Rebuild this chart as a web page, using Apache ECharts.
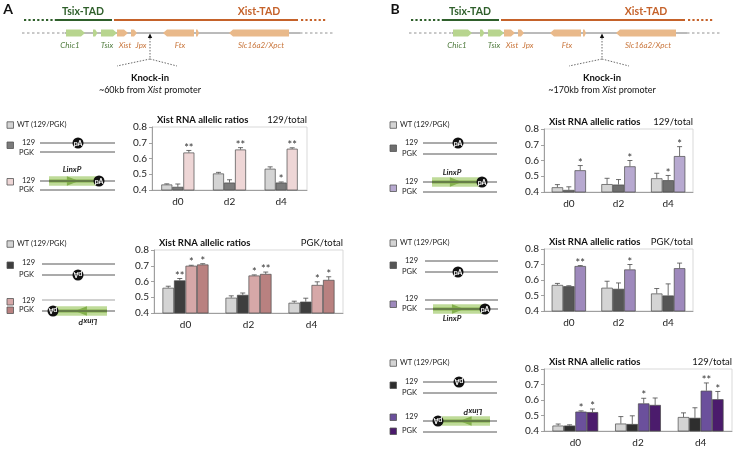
<!DOCTYPE html>
<html><head><meta charset="utf-8">
<script src="https://cdn.jsdelivr.net/npm/echarts@6/dist/echarts.min.js"></script>
<style>html,body{margin:0;padding:0;background:#fff}#c{width:735px;height:450px}</style>
</head><body><div id="c"></div>
<script>
// ---------- DATA ----------
const categories = ['d0', 'd2', 'd4'];
const yTicks = [0.4, 0.5, 0.6, 0.7, 0.8];

// Panel A, top: 129/total
const a1Wt = [0.435, 0.505, 0.535];
const a1WtErr = [0.004, 0.007, 0.012];
const a1Pa = [0.42, 0.447, 0.447];
const a1PaErr = [0.018, 0.018, 0.004];
const a1PaStars = ['', '', '*'];
const a1Linx = [0.638, 0.657, 0.662];
const a1LinxErr = [0.013, 0.012, 0.006];
const a1LinxStars = ['**', '**', '**'];

// Panel A, bottom: PGK/total
const a2Wt = [0.56, 0.497, 0.465];
const a2WtErr = [0.01, 0.012, 0.01];
const a2Pa = [0.607, 0.515, 0.472];
const a2PaErr = [0.012, 0.012, 0.022];
const a2PaStars = ['**', '', ''];
const a2Linx1 = [0.70, 0.638, 0.578];
const a2Linx1Err = [0.003, 0.004, 0.02];
const a2Linx1Stars = ['*', '*', '*'];
const a2Linx2 = [0.708, 0.648, 0.61];
const a2Linx2Err = [0.005, 0.012, 0.02];
const a2Linx2Stars = ['*', '**', '*'];

// Panel B, top: 129/total
const b1Wt = [0.43, 0.45, 0.487];
const b1WtErr = [0.017, 0.037, 0.032];
const b1Pa = [0.413, 0.447, 0.475];
const b1PaErr = [0.02, 0.032, 0.03];
const b1PaStars = ['', '', '*'];
const b1Linx = [0.538, 0.563, 0.628];
const b1LinxErr = [0.03, 0.037, 0.06];
const b1LinxStars = ['*', '*', '*'];

// Panel B, middle: PGK/total
const b2Wt = [0.568, 0.55, 0.513];
const b2WtErr = [0.01, 0.042, 0.032];
const b2Pa = [0.56, 0.543, 0.50];
const b2PaErr = [0.003, 0.038, 0.075];
const b2Linx = [0.69, 0.668, 0.676];
const b2LinxErr = [0.003, 0.032, 0.033];
const b2LinxStars = ['**', '*', ''];

// Panel B, bottom: 129/total
const b3Wt = [0.435, 0.448, 0.49];
const b3WtErr = [0.01, 0.045, 0.027];
const b3Pa = [0.435, 0.445, 0.485];
const b3PaErr = [0.005, 0.053, 0.065];
const b3Linx1 = [0.525, 0.578, 0.66];
const b3Linx1Err = [0.005, 0.033, 0.05];
const b3Linx1Stars = ['*', '*', '**'];
const b3Linx2 = [0.522, 0.568, 0.605];
const b3Linx2Err = [0.02, 0.045, 0.05];
const b3Linx2Stars = ['*', '', '*'];

// ---------- BUILD ----------
const FF = 'Lato, "Liberation Sans", sans-serif';
const grids = [], xAxes = [], yAxes = [], series = [], G = [];
const noStars = ['', '', ''];

function addPanel(rect, list, gap, title, sub) {
  const gi = grids.length;
  grids.push({left: rect[0], top: rect[1], width: rect[2], height: rect[3], show: true,
    borderColor: '#cfcfcf', borderWidth: 0.8, backgroundColor: 'transparent'});
  xAxes.push({gridIndex: gi, type: 'category', data: categories,
    axisLine: {lineStyle: {color: '#8c8c8c', width: 0.8}},
    axisTick: {length: 3, lineStyle: {color: '#8c8c8c', width: 0.8}},
    axisLabel: {fontSize: 10, color: '#222', margin: 7, fontFamily: FF}});
  yAxes.push({gridIndex: gi, type: 'value', min: yTicks[0], max: yTicks[yTicks.length - 1], interval: 0.1,
    axisLine: {show: true, lineStyle: {color: '#8c8c8c', width: 0.8}},
    axisTick: {show: true, length: 3, lineStyle: {color: '#8c8c8c', width: 0.8}},
    splitLine: {show: false},
    axisLabel: {fontSize: 10, color: '#222', margin: 5, fontFamily: FF, formatter: v => v.toFixed(1)}});
  const n = list.length;
  list.forEach((s, k) => {
    series.push({type: 'bar', xAxisIndex: gi, yAxisIndex: gi, data: s.vals, barGap: '0%',
      barCategoryGap: gap, itemStyle: {color: s.color, borderColor: '#4a4a4a', borderWidth: 0.7}, z: 2});
    const stars = s.stars || noStars;
    series.push({type: 'custom', xAxisIndex: gi, yAxisIndex: gi, z: 3,
      data: s.vals.map((v, i) => [i, v, s.errs[i]]),
      renderItem: (params, api) => {
        const ci = api.value(0), v = api.value(1), e = api.value(2);
        const catW = api.size([1, 0])[0];
        const g = parseFloat(gap) / 100;
        const bw = catW * (1 - g) / n;
        const p0 = api.coord([ci, v]);
        const p1 = api.coord([ci, v + e]);
        const x = p0[0] + (k - (n - 1) / 2) * bw;
        const st = {stroke: '#4a4a4a', lineWidth: 0.8};
        const ch = [
          {type: 'line', shape: {x1: x, y1: p0[1], x2: x, y2: p1[1]}, style: st},
          {type: 'line', shape: {x1: x - 2.5, y1: p1[1], x2: x + 2.5, y2: p1[1]}, style: st}
        ];
        const t = stars[params.dataIndex];
        if (t) ch.push({type: 'text', style: {text: t, x: x, y: p1[1] + 3, align: 'center', verticalAlign: 'bottom',
          textAlign: 'center', textVerticalAlign: 'bottom', font: '11px ' + FF, fill: '#333'}});
        return {type: 'group', children: ch};
      }});
  });
  G.push({type: 'text', style: {text: title, x: rect[0] + 5, y: rect[1] - 7, font: 'bold 9.5px ' + FF, fill: '#111',
    align: 'left', verticalAlign: 'middle', textAlign: 'left', textVerticalAlign: 'middle'}});
  G.push({type: 'text', style: {text: sub, x: rect[0] + rect[2], y: rect[1] - 7, font: '9.5px ' + FF, fill: '#111',
    align: 'right', verticalAlign: 'middle', textAlign: 'right', textVerticalAlign: 'middle'}});
}

const cWt = '#d4d4d4';
addPanel([152, 127, 155, 63], [
  {vals: a1Wt, errs: a1WtErr, color: cWt},
  {vals: a1Pa, errs: a1PaErr, stars: a1PaStars, color: '#7b7b7b'},
  {vals: a1Linx, errs: a1LinxErr, stars: a1LinxStars, color: '#eed6d6'}
], '36%', 'Xist RNA allelic ratios', '129/total');
addPanel([154, 250, 189, 63], [
  {vals: a2Wt, errs: a2WtErr, color: cWt},
  {vals: a2Pa, errs: a2PaErr, stars: a2PaStars, color: '#3e3e3e'},
  {vals: a2Linx1, errs: a2Linx1Err, stars: a2Linx1Stars, color: '#d6a8a8'},
  {vals: a2Linx2, errs: a2Linx2Err, stars: a2Linx2Stars, color: '#b98180'}
], '27%', 'Xist RNA allelic ratios', 'PGK/total');
addPanel([544, 129, 149, 63], [
  {vals: b1Wt, errs: b1WtErr, color: cWt},
  {vals: b1Pa, errs: b1PaErr, stars: b1PaStars, color: '#6e6e6e'},
  {vals: b1Linx, errs: b1LinxErr, stars: b1LinxStars, color: '#b7a9d0'}
], '31%', 'Xist RNA allelic ratios', '129/total');
addPanel([544, 249, 149, 62], [
  {vals: b2Wt, errs: b2WtErr, color: cWt},
  {vals: b2Pa, errs: b2PaErr, color: '#555555'},
  {vals: b2Linx, errs: b2LinxErr, stars: b2LinxStars, color: '#9e89bc'}
], '31%', 'Xist RNA allelic ratios', 'PGK/total');
addPanel([544, 369, 188, 62], [
  {vals: b3Wt, errs: b3WtErr, color: cWt},
  {vals: b3Pa, errs: b3PaErr, color: '#2e2e2e'},
  {vals: b3Linx1, errs: b3Linx1Err, stars: b3Linx1Stars, color: '#6b509c'},
  {vals: b3Linx2, errs: b3Linx2Err, stars: b3Linx2Stars, color: '#4b1b6c'}
], '27%', 'Xist RNA allelic ratios', '129/total');

// ---------- SCHEMATICS ----------
function T(text, x, y, font, fill, align, extra) {
  const o = {type: 'text', style: Object.assign({text, x, y, font: font + ' ' + FF, fill: fill || '#111',
    align: align || 'center', verticalAlign: 'middle', textAlign: align || 'center', textVerticalAlign: 'middle'}, extra || {})};
  return o;
}
function L(x1, y1, x2, y2, stroke, w, dash) {
  return {type: 'line', shape: {x1, y1, x2, y2}, style: {stroke, lineWidth: w || 1, lineDash: dash || null}};
}
function gene(x1, x2, y, dir, fill) {
  const h = 3.5, tip = Math.min(4, (x2 - x1) / 2);
  let pts;
  if (dir > 0) pts = [[x1, y - h], [x2 - tip, y - h], [x2, y], [x2 - tip, y + h], [x1, y + h]];
  else pts = [[x1, y], [x1 + tip, y - h], [x2, y - h], [x2, y + h], [x1 + tip, y + h]];
  return {type: 'polygon', shape: {points: pts}, style: {fill}};
}
const gGreen = '#b8d58f', gOrange = '#e9b98a', tGreen = '#4e7a3c', tOrange = '#c9763c';
function schematic(ox, kx, letter, dist) {
  G.push(T(letter, ox + 8, 9, 'bold 14px', '#111'));
  G.push(T('Tsix-TAD', ox + 83, 12, 'bold 10.5px', '#2f5f2b'));
  G.push(T('Xist-TAD', ox + 259, 12, 'bold 10.5px', '#c5622a'));
  G.push(L(ox + 24, 20, ox + 55, 20, '#2f5f2b', 2, [2.2, 2.2]));
  G.push(L(ox + 55, 20, ox + 112, 20, '#2f5f2b', 2));
  G.push(L(ox + 114, 20, ox + 298, 20, '#c5622a', 2));
  G.push(L(ox + 301, 20, ox + 327, 20, '#c5622a', 2, [2.2, 2.2]));
  G.push(L(ox + 22, 33, ox + 65, 33, '#777', 0.8, [2.5, 2.5]));
  G.push(L(ox + 65, 33, ox + 300, 33, '#666', 0.9));
  G.push(L(ox + 300, 33, ox + 333, 33, '#777', 0.8, [2.5, 2.5]));
  G.push(gene(ox + 66, ox + 85, 33, 1, gGreen));
  G.push(gene(ox + 93, ox + 97.5, 33, 1, gGreen));
  G.push(gene(ox + 101, ox + 117, 33, 1, gGreen));
  G.push(gene(ox + 117, ox + 128, 33, 1, gOrange));
  G.push(gene(ox + 131, ox + 137, 33, 1, gOrange));
  G.push(gene(ox + 163, ox + 194, 33, -1, gOrange));
  G.push(gene(ox + 196, ox + 199, 33, 1, gOrange));
  G.push(gene(ox + 229, ox + 289, 33, -1, gOrange));
  G.push(T('Chic1', ox + 70, 45, 'italic 8px', tGreen));
  G.push(T('Tsix', ox + 107, 45, 'italic 8px', tGreen));
  G.push(T('Xist', ox + 125, 45, 'italic 8px', tOrange));
  G.push(T('Jpx', ox + 141, 45, 'italic 8px', tOrange));
  G.push(T('Ftx', ox + 180, 45, 'italic 8px', tOrange));
  G.push(T('Slc16a2/Xpct', ox + 261, 45, 'italic 8px', tOrange));
  // knock-in
  G.push({type: 'polygon', shape: {points: [[kx - 2.2, 38], [kx + 2.2, 38], [kx, 33.5]]}, style: {fill: '#111'}});
  G.push(L(kx, 38, kx, 59, '#444', 0.8, [1.5, 1.5]));
  G.push(L(kx, 59, kx - 33, 66, '#444', 0.8, [1.5, 1.5]));
  G.push(L(kx, 59, kx + 27, 66, '#444', 0.8, [1.5, 1.5]));
  G.push(T('Knock-in', kx, 78, 'bold 9.5px', '#111'));
  G.push({type: 'text', style: {text: '~' + dist + ' from {i|Xist} promoter', x: kx, y: 90, font: '9px ' + FF, fill: '#111',
    align: 'center', verticalAlign: 'middle', textAlign: 'center', textVerticalAlign: 'middle',
    rich: {i: {fontStyle: 'italic', fontSize: 9, fontFamily: 'Lato'}}}});
}
schematic(0, 150, 'A', '60kb');
schematic(387, 602, 'B', '170kb');

// construct diagrams
function sq(x, y, fill) { return {type: 'rect', shape: {x, y, width: 6.5, height: 6.5}, style: {fill, stroke: '#555', lineWidth: 0.8}}; }
function pA(cx, cy, flip) {
  return {type: 'group', x: cx, y: cy, rotation: flip ? Math.PI : 0, children: [
    {type: 'circle', shape: {cx: 0, cy: 0, r: 5.5}, style: {fill: '#111'}},
    {type: 'text', style: {text: 'pA', x: 0, y: 0.3, font: 'bold 7px ' + FF, fill: '#fff', align: 'center', verticalAlign: 'middle',
      textAlign: 'center', textVerticalAlign: 'middle'}}
  ]};
}
function linx(x1, x2, cy, dir) {
  const w = x2 - x1, mid = x1 + w * (dir > 0 ? 0.55 : 0.45);
  const el = [
    {type: 'rect', shape: {x: x1, y: cy - 4.8, width: w, height: 9.6}, style: {fill: '#bcd993', opacity: 0.95}},
    {type: 'rect', shape: {x: x1, y: cy - 1.5, width: w, height: 3}, style: {fill: '#83b04c'}}
  ];
  if (dir > 0) el.push({type: 'polygon', shape: {points: [[mid - 8, cy - 4.8], [mid + 4, cy], [mid - 8, cy + 4.8]]}, style: {fill: '#83b04c'}});
  else el.push({type: 'polygon', shape: {points: [[mid + 8, cy - 4.8], [mid - 4, cy], [mid + 8, cy + 4.8]]}, style: {fill: '#83b04c'}});
  return el;
}
const lab = '7.5px', labC = '#222';
function wt(x, y) { G.push(sq(x, y - 3.2, cWt)); G.push(T('WT (129/PGK)', x + 10, y, lab, labC, 'left')); }
function ln(x1, x2, y, c) { G.push(L(x1, y, x2, y, c || '#444', 0.9)); }

// A top constructs
wt(7, 125);
G.push(sq(7, 142, '#7b7b7b')); G.push(T('129', 22, 143, lab, labC, 'left')); G.push(T('PGK', 19, 153, lab, labC, 'left'));
ln(40, 115, 143); ln(40, 115, 152); G.push(pA(78, 143, false));
G.push(sq(7, 178.5, '#eed6d6')); G.push(T('129', 22, 181, lab, labC, 'left')); G.push(T('PGK', 19, 190, lab, labC, 'left'));
linx(49, 96, 181, 1).forEach(e => G.push(e)); ln(40, 115, 181); ln(40, 115, 190); G.push(pA(99, 181, false));
G.push(T('LinxP', 72, 169, 'bold italic 8px', '#222'));

// A bottom constructs
wt(7, 244);
G.push(sq(7, 262, '#3e3e3e')); G.push(T('129', 22, 263, lab, labC, 'left')); G.push(T('PGK', 19, 275, lab, labC, 'left'));
ln(42, 115, 264); ln(42, 115, 275); G.push(pA(78, 275, true));
G.push(sq(7, 298.5, '#d6a8a8')); G.push(sq(7, 307, '#b98180'));
G.push(T('129', 22, 301, lab, labC, 'left')); G.push(T('PGK', 19, 310, lab, labC, 'left'));
ln(42, 115, 300, '#999');
linx(56, 107, 311, -1).forEach(e => G.push(e)); ln(42, 115, 311); G.push(pA(53, 311, true));
G.push({type: 'group', x: 88, y: 322, rotation: Math.PI, children: [T('LinxP', 0, 0, 'bold italic 8px', '#222')]});

// B top constructs
wt(390, 125);
G.push(sq(390, 145, '#6e6e6e')); G.push(T('129', 405, 143, lab, labC, 'left')); G.push(T('PGK', 402, 154, lab, labC, 'left'));
ln(423, 497, 143); ln(423, 497, 154); G.push(pA(458, 143, false));
G.push(sq(390, 185, '#b7a9d0')); G.push(T('129', 405, 182, lab, labC, 'left')); G.push(T('PGK', 402, 192, lab, labC, 'left'));
linx(432, 479, 182, 1).forEach(e => G.push(e)); ln(423, 497, 182); ln(423, 497, 192); G.push(pA(482, 182, false));
G.push(T('LinxP', 452, 172, 'bold italic 8px', '#222'));

// B middle constructs
wt(390, 243);
G.push(sq(390, 262, '#555555')); G.push(T('129', 405, 261, lab, labC, 'left')); G.push(T('PGK', 402, 272, lab, labC, 'left'));
ln(425, 498, 261); ln(425, 498, 272); G.push(pA(458, 272, false));
G.push(sq(390, 301, '#9e89bc')); G.push(T('129', 405, 299, lab, labC, 'left')); G.push(T('PGK', 402, 309, lab, labC, 'left'));
ln(425, 498, 300); linx(433, 482, 309, 1).forEach(e => G.push(e)); ln(425, 498, 309); G.push(pA(485, 309, false));
G.push(T('LinxP', 452, 318, 'bold italic 8px', '#222'));

// B bottom constructs
wt(390, 363);
G.push(sq(390, 382, '#2e2e2e')); G.push(T('129', 405, 382, lab, labC, 'left')); G.push(T('PGK', 402, 393, lab, labC, 'left'));
ln(423, 497, 382); ln(423, 497, 393); G.push(pA(459, 382, true));
G.push(sq(390, 414, '#6b509c')); G.push(sq(390, 428, '#4b1b6c'));
G.push(T('129', 405, 417, lab, labC, 'left')); G.push(T('PGK', 402, 431, lab, labC, 'left'));
linx(442, 490, 421, -1).forEach(e => G.push(e)); ln(423, 497, 421); ln(423, 497, 432); G.push(pA(438, 421, true));
G.push({type: 'group', x: 473, y: 412, rotation: Math.PI, children: [T('LinxP', 0, 0, 'bold italic 8px', '#222')]});

const chart = echarts.init(document.getElementById('c'), null, {renderer: 'canvas'});
chart.setOption({
  animation: false,
  textStyle: {fontFamily: FF},
  grid: grids, xAxis: xAxes, yAxis: yAxes, series: series,
  graphic: {elements: G}
});
</script></body></html>
